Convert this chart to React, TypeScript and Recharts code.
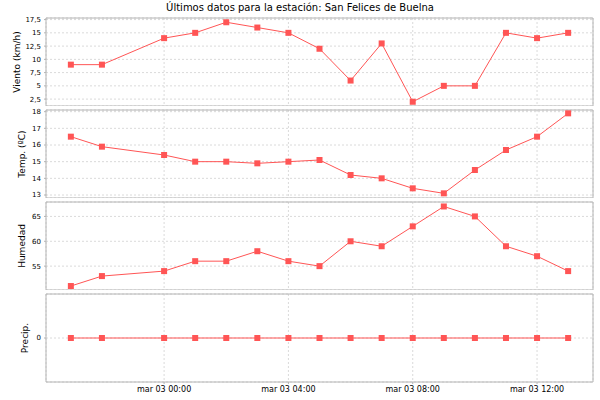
import React from "react"
import { LineChart, Line, XAxis, YAxis, CartesianGrid, ReferenceArea } from "recharts"

// horas relativas a mar 03 00:00
const horas = [-3, -2, 0, 1, 2, 3, 4, 5, 6, 7, 8, 9, 10, 11, 12, 13]
const viento = [9, 9, 14, 15, 17, 16, 15, 12, 6, 13, 2, 5, 5, 15, 14, 15]
const temp = [16.5, 15.9, 15.4, 15.0, 15.0, 14.9, 15.0, 15.1, 14.2, 14.0, 13.4, 13.1, 14.5, 15.7, 16.5, 17.9]
const humedad = [51, 53, 54, 56, 56, 58, 56, 55, 60, 59, 63, 67, 65, 59, 57, 54]
const precip = [0, 0, 0, 0, 0, 0, 0, 0, 0, 0, 0, 0, 0, 0, 0, 0]

const horasEje = [0, 4, 8, 12]
const ticksViento = [2.5, 5, 7.5, 10, 12.5, 15, 17.5]
const ticksTemp = [13, 14, 15, 16, 17, 18]
const ticksHumedad = [55, 60, 65]
const ticksPrecip = [0]

const ROJO = "#ff5555"
const GRIS = "#b4b4b4"
const REJILLA = "#dadada"
const FUENTE = "'DejaVu Sans', sans-serif"
const DOMINIO_X: [number, number] = [-3.8, 13.8]
const HOLGURA = 6

const datos = horas.map((hora, i) => ({
    hora,
    viento: viento[i],
    temp: temp[i],
    humedad: humedad[i],
    precip: precip[i],
}))

const pad = (n: number) => (n < 10 ? `0${n}` : `${n}`)
const coma = (v: number) => String(v).replace(".", ",")

function cuadrado(props: any) {
    const { cx, cy, index } = props
    if (cx == null || cy == null) return <g key={`d-${index}`} />
    return <rect key={`d-${index}`} x={cx - 3} y={cy - 3} width={6} height={6} fill={ROJO} />
}

function etiquetaEje(texto: string, x: number) {
    return (props: any) => {
        const vb = props.viewBox
        const cy = vb.y + vb.height / 2
        return (
            <text
                x={x}
                y={cy}
                transform={`rotate(-90 ${x} ${cy})`}
                textAnchor="middle"
                dominantBaseline="central"
                fontSize={9}
                fill="#000"
            >
                {texto}
            </text>
        )
    }
}

interface PanelProps {
    top: number
    height: number
    dataKey: string
    domain: [number, number]
    ticks: number[]
    formatter?: (v: number) => string
    etiqueta: string
    etiquetaX: number
    ejeX?: boolean
}

function Panel({ top, height, dataKey, domain, ticks, formatter, etiqueta, etiquetaX, ejeX }: PanelProps) {
    return (
        <div style={{ position: "absolute", left: 0, top: top - HOLGURA }}>
            <LineChart
                width={600}
                height={height + HOLGURA}
                data={datos}
                margin={{ top: HOLGURA, right: 7, bottom: 0, left: 0 }}
            >
                <CartesianGrid stroke={REJILLA} strokeDasharray="2 2" />
                <XAxis
                    type="number"
                    dataKey="hora"
                    domain={DOMINIO_X}
                    ticks={horasEje}
                    interval={0}
                    allowDataOverflow
                    hide={!ejeX}
                    height={20}
                    axisLine={false}
                    tickSize={2}
                    tickMargin={2}
                    tickLine={{ stroke: GRIS }}
                    tick={{ fontSize: 8, fill: "#000" }}
                    tickFormatter={(h: number) => `mar 03 ${pad(h)}:00`}
                />
                <YAxis
                    type="number"
                    domain={domain}
                    ticks={ticks}
                    interval={0}
                    allowDataOverflow
                    width={46}
                    axisLine={false}
                    tickSize={2}
                    tickMargin={3}
                    tickLine={{ stroke: GRIS }}
                    tick={{ fontSize: 7, fill: "#000" }}
                    tickFormatter={formatter}
                    label={etiquetaEje(etiqueta, etiquetaX)}
                />
                <ReferenceArea
                    x1={DOMINIO_X[0]}
                    x2={DOMINIO_X[1]}
                    y1={domain[0]}
                    y2={domain[1]}
                    fill="none"
                    stroke={GRIS}
                    strokeWidth={1}
                    ifOverflow="visible"
                />
                <Line
                    type="linear"
                    dataKey={dataKey}
                    stroke={ROJO}
                    strokeWidth={1}
                    dot={cuadrado}
                    activeDot={false}
                    isAnimationActive={false}
                />
            </LineChart>
        </div>
    )
}

export default function App() {
    return (
        <div
            style={{
                position: "absolute",
                left: 0,
                top: 0,
                width: 600,
                height: 400,
                background: "#fff",
                fontFamily: FUENTE,
            }}
        >
            <svg width={600} height={18} style={{ position: "absolute", left: 0, top: 0 }}>
                <text x={300} y={11} textAnchor="middle" fontSize={10} fill="#000">
                    Últimos datos para la estación: San Felices de Buelna
                </text>
            </svg>
            <Panel top={18} height={88} dataKey="viento" domain={[1.2, 17.8]} ticks={ticksViento} formatter={coma} etiqueta="Viento (km/h)" etiquetaX={17} />
            <Panel top={110} height={88} dataKey="temp" domain={[12.82, 18.1]} ticks={ticksTemp} etiqueta="Temp. (ºC)" etiquetaX={22} />
            <Panel top={202} height={88} dataKey="humedad" domain={[50.2, 67.9]} ticks={ticksHumedad} etiqueta="Humedad" etiquetaX={22} />
            <Panel top={294} height={108} dataKey="precip" domain={[-1, 1]} ticks={ticksPrecip} etiqueta="Precip." etiquetaX={25} ejeX />
        </div>
    )
}
